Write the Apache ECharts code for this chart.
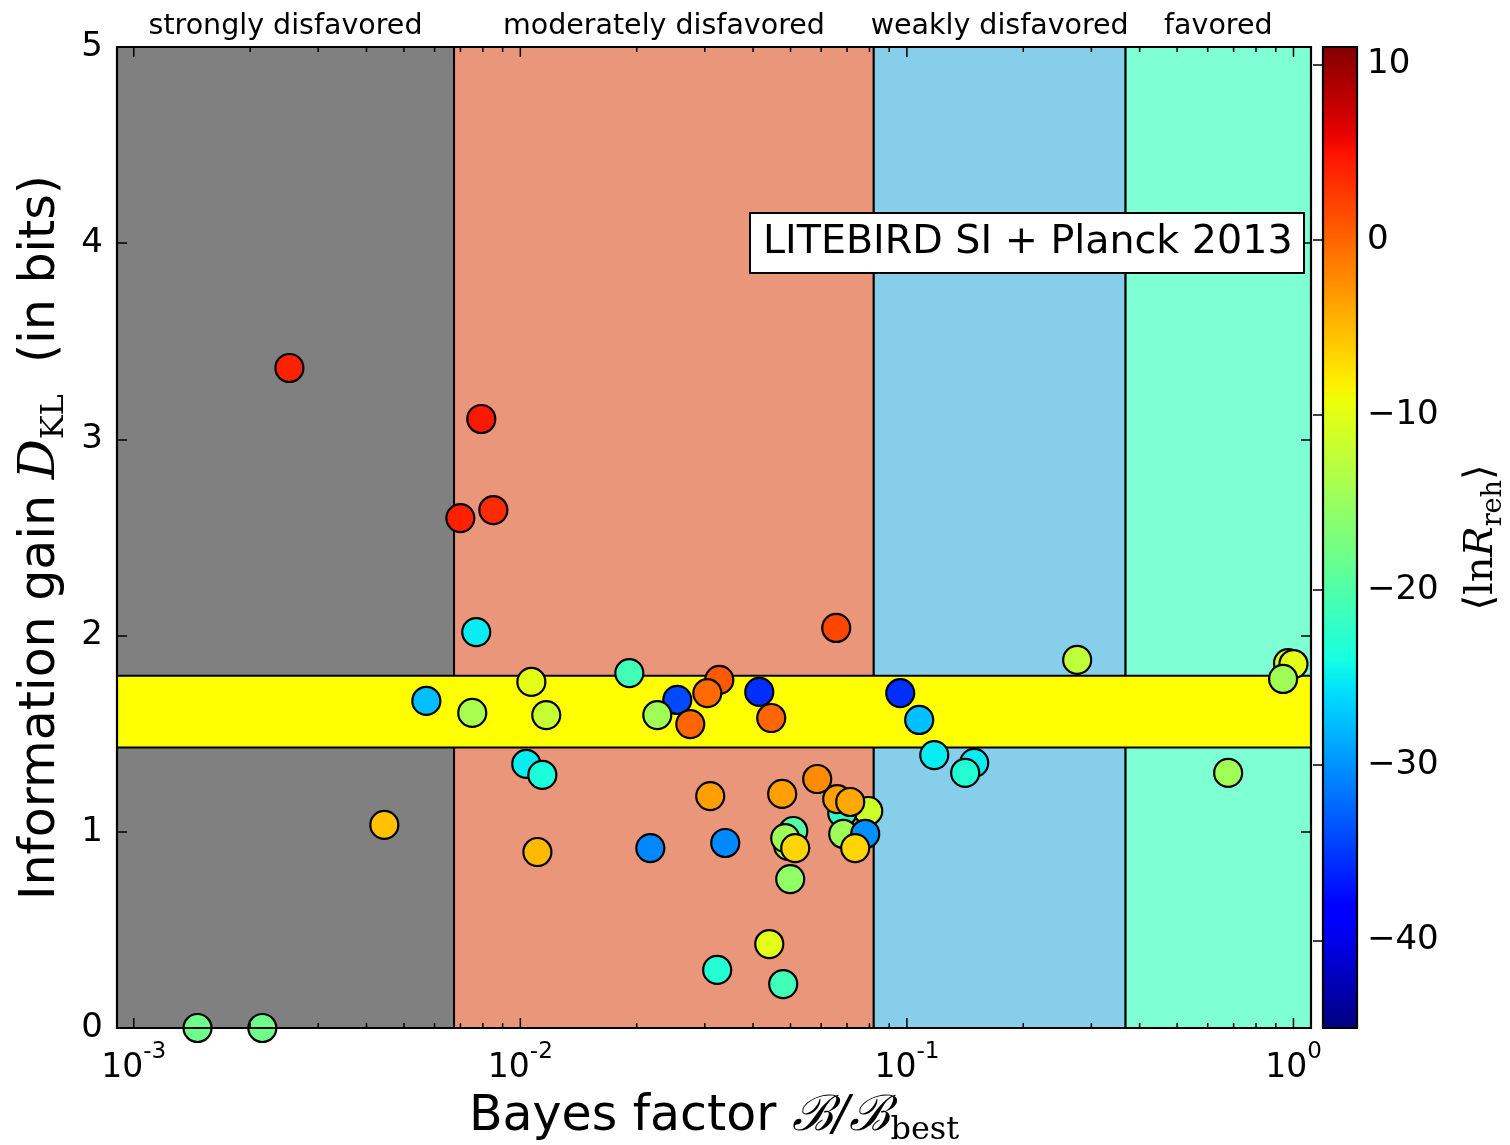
<!DOCTYPE html>
<html>
<head>
<meta charset="utf-8">
<script src="https://cdn.jsdelivr.net/npm/echarts@6/dist/echarts.min.js"></script>
<style>
  html, body { margin: 0; padding: 0; background: #fff; }
  #chart { width: 1510px; height: 1145px; }
</style>
</head>
<body>
<div id="chart"></div>
<script>
// Bayes factor of each reheating model relative to the best one
const bayesFactor = [
  1.462e-3, 2.151e-3, 2.527e-3, 4.448e-3, 5.713e-3, 6.996e-3, 7.925e-3, 8.516e-3,
  7.69e-3, 7.51e-3, 0.01068, 0.01167, 0.01036, 0.0114, 0.01107, 0.01914,
  0.02547, 0.02261, 0.02752, 0.03271, 0.03046, 0.0415, 0.04457, 0.02169,
  0.03389, 0.03099, 0.04757, 0.05861, 0.07943, 0.06803, 0.06603, 0.07135,
  0.06844, 0.07801, 0.07349, 0.05082, 0.04932, 0.04844, 0.05142, 0.04991,
  0.06564, 0.0323, 0.04786, 0.04405, 0.0961, 0.1076, 0.1177, 0.1493,
  0.1415, 0.2757, 0.6776, 0.968, 1.0, 0.9399
];
// Information gain D_KL in bits
const infoGainBits = [
  0.0, 0.0, 3.364, 1.035, 1.667, 2.599, 3.104, 2.640,
  2.018, 1.606, 1.764, 1.595, 1.346, 1.290, 0.897, 1.809,
  1.672, 1.595, 1.549, 1.774, 1.707, 1.713, 1.580, 0.917,
  0.943, 1.182, 1.193, 1.269, 1.106, 1.096, 1.167, 1.152,
  0.989, 0.989, 0.917, 1.004, 0.928, 0.968, 0.917, 0.759,
  2.039, 0.296, 0.224, 0.428, 1.707, 1.570, 1.391, 1.351,
  1.300, 1.876, 1.300, 1.860, 1.855, 1.779
];
// Posterior mean of ln R_reh
const meanLnRreh = [
  -18, -18, 4, -5.5, -27.5, 4, 4.5, 3.5,
  -25, -14, -10, -12, -25, -23.5, -5, -21,
  -34, -14.5, 0, 0.7, -0.3, -35.5, 0, -30.5,
  -30.5, -3.5, -3.5, -2.3, -11.5, -22, -3.5, -4,
  -14.5, -30, -6.7, -19.5, -14, -14.5, -6.7, -15.5,
  1.8, -23, -21, -10, -35.5, -27.5, -25, -25,
  -23, -12.5, -14.5, -11, -10, -14.5
];

// Axis ranges and ticks
const X_MIN = 9.05e-4, X_MAX = 1.11;
const Y_MIN = 0, Y_MAX = 5;
const CB_MIN = -45, CB_MAX = 11;
const xDecades = [1e-3, 1e-2, 1e-1, 1];
const yTicks = [0, 1, 2, 3, 4, 5];
const cbTicks = [-40, -30, -20, -10, 0, 10];

// Jeffreys' scale thresholds in ln B and the evidence classes they separate
const jeffreysLnB = [-5, -2.5, -1];
const bandLabels = ['strongly disfavored', 'moderately disfavored', 'weakly disfavored', 'favored'];
const bandColors = ['#808080', '#E9967A', '#87CEEB', '#7FFFD4'];

// Information gain range of the Planck 2013 constraint
const planckRange = [1.43, 1.795];

const FONT = '"DejaVu Sans", sans-serif';
const SERIF = '"DejaVu Serif", "Liberation Serif", serif';

// matplotlib "jet" colormap
function jet(t) {
  const seg = pts => {
    for (let i = 1; i < pts.length; i++) {
      if (t <= pts[i][0]) {
        const [x0, y0] = pts[i - 1], [x1, y1] = pts[i];
        return y0 + (y1 - y0) * (t - x0) / (x1 - x0);
      }
    }
    return pts[pts.length - 1][1];
  };
  const r = seg([[0, 0], [0.35, 0], [0.66, 1], [0.89, 1], [1, 0.5]]);
  const g = seg([[0, 0], [0.125, 0], [0.375, 1], [0.64, 1], [0.91, 0], [1, 0]]);
  const b = seg([[0, 0.5], [0.11, 1], [0.34, 1], [0.65, 0], [1, 0]]);
  const c = v => Math.round(Math.max(0, Math.min(1, v)) * 255);
  return 'rgb(' + c(r) + ',' + c(g) + ',' + c(b) + ')';
}
const JET_STEPS = 64;
const jetColors = [];
for (let i = 0; i <= JET_STEPS; i++) jetColors.push(jet(i / JET_STEPS));

// Band edges along the Bayes-factor axis
const bandEdges = [X_MIN].concat(jeffreysLnB.map(v => Math.exp(v)), [X_MAX]);
const bandData = bandLabels.map((_, i) => [bandEdges[i], bandEdges[i + 1], i]);

// Tick marks along the log axis (majors at decades, minors at 2..9)
const xTickData = [];
xDecades.forEach(d => {
  xTickData.push([d, 1]);
  for (let m = 2; m <= 9; m++) {
    const v = m * d;
    if (v > X_MIN && v < X_MAX) xTickData.push([v, 0]);
  }
});

const scatterData = bayesFactor.map((b, i) => [b, infoGainBits[i], meanLnRreh[i]]);

const chart = echarts.init(document.getElementById('chart'));

const option = {
  animation: false,
  backgroundColor: '#fff',
  title: {
    text: 'LITEBIRD SI + Planck 2013',
    left: 750,
    top: 213,
    padding: [8, 12, 8, 13],
    borderColor: '#000',
    borderWidth: 2,
    backgroundColor: '#fff',
    z: 20,
    textStyle: { fontFamily: FONT, fontSize: 39.6, fontWeight: 'normal', color: '#000', lineHeight: 44 }
  },
  grid: [
    { left: 117, top: 47, width: 1194, height: 981, outerBoundsMode: 'none', containLabel: false },
    { left: 1323, top: 47, width: 34, height: 981, outerBoundsMode: 'none', containLabel: false }
  ],
  xAxis: [
    {
      type: 'log', logBase: 10, gridIndex: 0, min: X_MIN, max: X_MAX,
      axisLine: { show: false }, axisTick: { show: false }, splitLine: { show: false },
      axisLabel: {
        showMinLabel: false, showMaxLabel: false, margin: 13, color: '#000',
        formatter: v => '{b|10}{s|' + Math.round(Math.log10(v)) + '}',
        rich: {
          b: { fontFamily: FONT, fontSize: 33, lineHeight: 44, verticalAlign: 'bottom', color: '#000' },
          s: { fontFamily: FONT, fontSize: 23, lineHeight: 23, verticalAlign: 'top', color: '#000' }
        }
      },
      name: '{a|Bayes factor }{m|ℬ/ℬ}{s|best}',
      nameLocation: 'middle', nameGap: 59, nameMoveOverlap: false,
      nameTextStyle: {
        rich: {
          a: { fontFamily: FONT, fontSize: 49, lineHeight: 60, verticalAlign: 'middle', color: '#000' },
          m: { fontFamily: SERIF, fontStyle: 'italic', fontSize: 49, lineHeight: 60, verticalAlign: 'middle', color: '#000' },
          s: { fontFamily: SERIF, fontSize: 32, lineHeight: 32, verticalAlign: 'bottom', color: '#000' }
        }
      }
    },
    { type: 'value', gridIndex: 1, min: 0, max: 1, show: false }
  ],
  yAxis: [
    {
      type: 'value', gridIndex: 0, min: Y_MIN, max: Y_MAX, interval: 1, position: 'left', z: 10,
      axisLine: { show: false },
      axisTick: { show: true, inside: true, length: 10, lineStyle: { color: '#000', width: 1.5 } },
      splitLine: { show: false },
      axisLabel: { fontFamily: FONT, fontSize: 34, color: '#000', margin: 14 },
      name: '{a|Information gain }{d|D}{k|KL}{a|  (in bits)}',
      nameLocation: 'middle', nameGap: 46, nameRotate: 90, nameMoveOverlap: false,
      nameTextStyle: {
        rich: {
          a: { fontFamily: FONT, fontSize: 49, lineHeight: 60, verticalAlign: 'middle', color: '#000' },
          d: { fontFamily: SERIF, fontStyle: 'italic', fontSize: 50, lineHeight: 60, verticalAlign: 'middle', color: '#000' },
          k: { fontFamily: SERIF, fontSize: 32, lineHeight: 32, verticalAlign: 'bottom', color: '#000' }
        }
      }
    },
    {
      type: 'value', gridIndex: 0, min: Y_MIN, max: Y_MAX, interval: 1, position: 'right', z: 10,
      axisLine: { show: false },
      axisTick: { show: true, inside: true, length: 10, lineStyle: { color: '#000', width: 1.5 } },
      splitLine: { show: false },
      axisLabel: { show: false }
    },
    {
      type: 'value', gridIndex: 1, min: CB_MIN, max: CB_MAX, position: 'right', z: 10,
      axisLine: { show: false },
      axisTick: { show: true, inside: true, length: 10, customValues: cbTicks, lineStyle: { color: '#000', width: 1.5 } },
      splitLine: { show: false },
      axisLabel: {
        customValues: cbTicks, fontFamily: FONT, fontSize: 34, color: '#000', margin: 10,
        formatter: v => String(v).replace('-', '\u2212')
      },
      name: '{a|\u27E8ln}{r|R}{s|reh}{a|\u27E9}',
      nameLocation: 'middle', nameGap: 100, nameRotate: 90, nameMoveOverlap: false,
      nameTextStyle: {
        rich: {
          a: { fontFamily: SERIF, fontSize: 40, lineHeight: 50, verticalAlign: 'middle', color: '#000' },
          r: { fontFamily: SERIF, fontStyle: 'italic', fontSize: 40, lineHeight: 50, verticalAlign: 'middle', color: '#000' },
          s: { fontFamily: SERIF, fontSize: 27, lineHeight: 27, verticalAlign: 'bottom', color: '#000' }
        }
      }
    }
  ],
  visualMap: {
    type: 'continuous', show: false, min: CB_MIN, max: CB_MAX, dimension: 2, seriesIndex: 2,
    inRange: { color: jetColors }
  },
  series: [
    {
      // Evidence classes along the Bayes-factor axis
      type: 'custom', name: 'bands', xAxisIndex: 0, yAxisIndex: 0, z: 1, silent: true, clip: false,
      encode: { x: [0, 1], y: 2 },
      data: bandData,
      renderItem(params, api) {
        const x0 = api.value(0), x1 = api.value(1), i = api.value(2);
        const tl = api.coord([x0, Y_MAX]);
        const br = api.coord([x1, Y_MIN]);
        const mid = api.coord([Math.sqrt(x0 * x1), Y_MAX]);
        return {
          type: 'group',
          children: [
            {
              type: 'rect',
              shape: { x: tl[0], y: tl[1], width: br[0] - tl[0], height: br[1] - tl[1] },
              style: { fill: bandColors[i], stroke: '#000', lineWidth: 2 }
            },
            {
              type: 'text',
              style: {
                x: mid[0], y: mid[1] - 6, text: bandLabels[i], fill: '#000',
                font: '28.5px ' + FONT, align: 'center', verticalAlign: 'bottom'
              }
            }
          ]
        };
      }
    },
    {
      // Planck 2013 information-gain range
      type: 'custom', name: 'planck', xAxisIndex: 0, yAxisIndex: 0, z: 2, silent: true,
      encode: { x: [0, 1], y: [2, 3] },
      data: [[X_MIN, X_MAX, planckRange[0], planckRange[1]]],
      renderItem(params, api) {
        const tl = api.coord([api.value(0), api.value(3)]);
        const br = api.coord([api.value(1), api.value(2)]);
        return {
          type: 'rect',
          shape: { x: tl[0], y: tl[1], width: br[0] - tl[0], height: br[1] - tl[1] },
          style: { fill: '#FFFF00', stroke: '#000', lineWidth: 2 }
        };
      }
    },
    {
      type: 'scatter', name: 'models', xAxisIndex: 0, yAxisIndex: 0, z: 3,
      symbol: 'circle', symbolSize: 28, clip: true,
      itemStyle: { borderColor: '#000', borderWidth: 2.2, opacity: 1 },
      data: scatterData
    },
    {
      // Major and minor ticks on the log axis, bottom and top
      type: 'custom', name: 'xticks', xAxisIndex: 0, yAxisIndex: 0, z: 4, silent: true,
      encode: { x: 0, y: 1 },
      data: xTickData,
      renderItem(params, api) {
        const v = api.value(0);
        const len = api.value(1) ? 10 : 5;
        const b = api.coord([v, Y_MIN]);
        const t = api.coord([v, Y_MAX]);
        const st = { stroke: '#000', lineWidth: 1.5 };
        return {
          type: 'group',
          children: [
            { type: 'line', shape: { x1: b[0], y1: b[1], x2: b[0], y2: b[1] - len }, style: st },
            { type: 'line', shape: { x1: t[0], y1: t[1], x2: t[0], y2: t[1] + len }, style: st }
          ]
        };
      }
    },
    {
      // Plot frame
      type: 'custom', name: 'frame', xAxisIndex: 0, yAxisIndex: 0, z: 5, silent: true, clip: false,
      encode: { x: 0, y: 1 },
      data: [[X_MIN, Y_MIN]],
      renderItem(params, api) {
        const tl = api.coord([X_MIN, Y_MAX]);
        const br = api.coord([X_MAX, Y_MIN]);
        return {
          type: 'rect',
          shape: { x: tl[0], y: tl[1], width: br[0] - tl[0], height: br[1] - tl[1] },
          style: { fill: 'none', stroke: '#000', lineWidth: 2.2 }
        };
      }
    },
    {
      // Colour bar for <ln R_reh>
      type: 'custom', name: 'colorbar', xAxisIndex: 1, yAxisIndex: 2, z: 2, silent: true, clip: false,
      encode: { x: 0, y: 1 },
      data: [[0, CB_MIN]],
      renderItem(params, api) {
        const tl = api.coord([0, CB_MAX]);
        const br = api.coord([1, CB_MIN]);
        const stops = jetColors.map((c, i) => ({ offset: i / JET_STEPS, color: c }));
        return {
          type: 'rect',
          shape: { x: tl[0], y: tl[1], width: br[0] - tl[0], height: br[1] - tl[1] },
          style: { fill: new echarts.graphic.LinearGradient(0, 1, 0, 0, stops), stroke: '#000', lineWidth: 2.2 }
        };
      }
    }
  ]
};

chart.setOption(option);
</script>
</body>
</html>
